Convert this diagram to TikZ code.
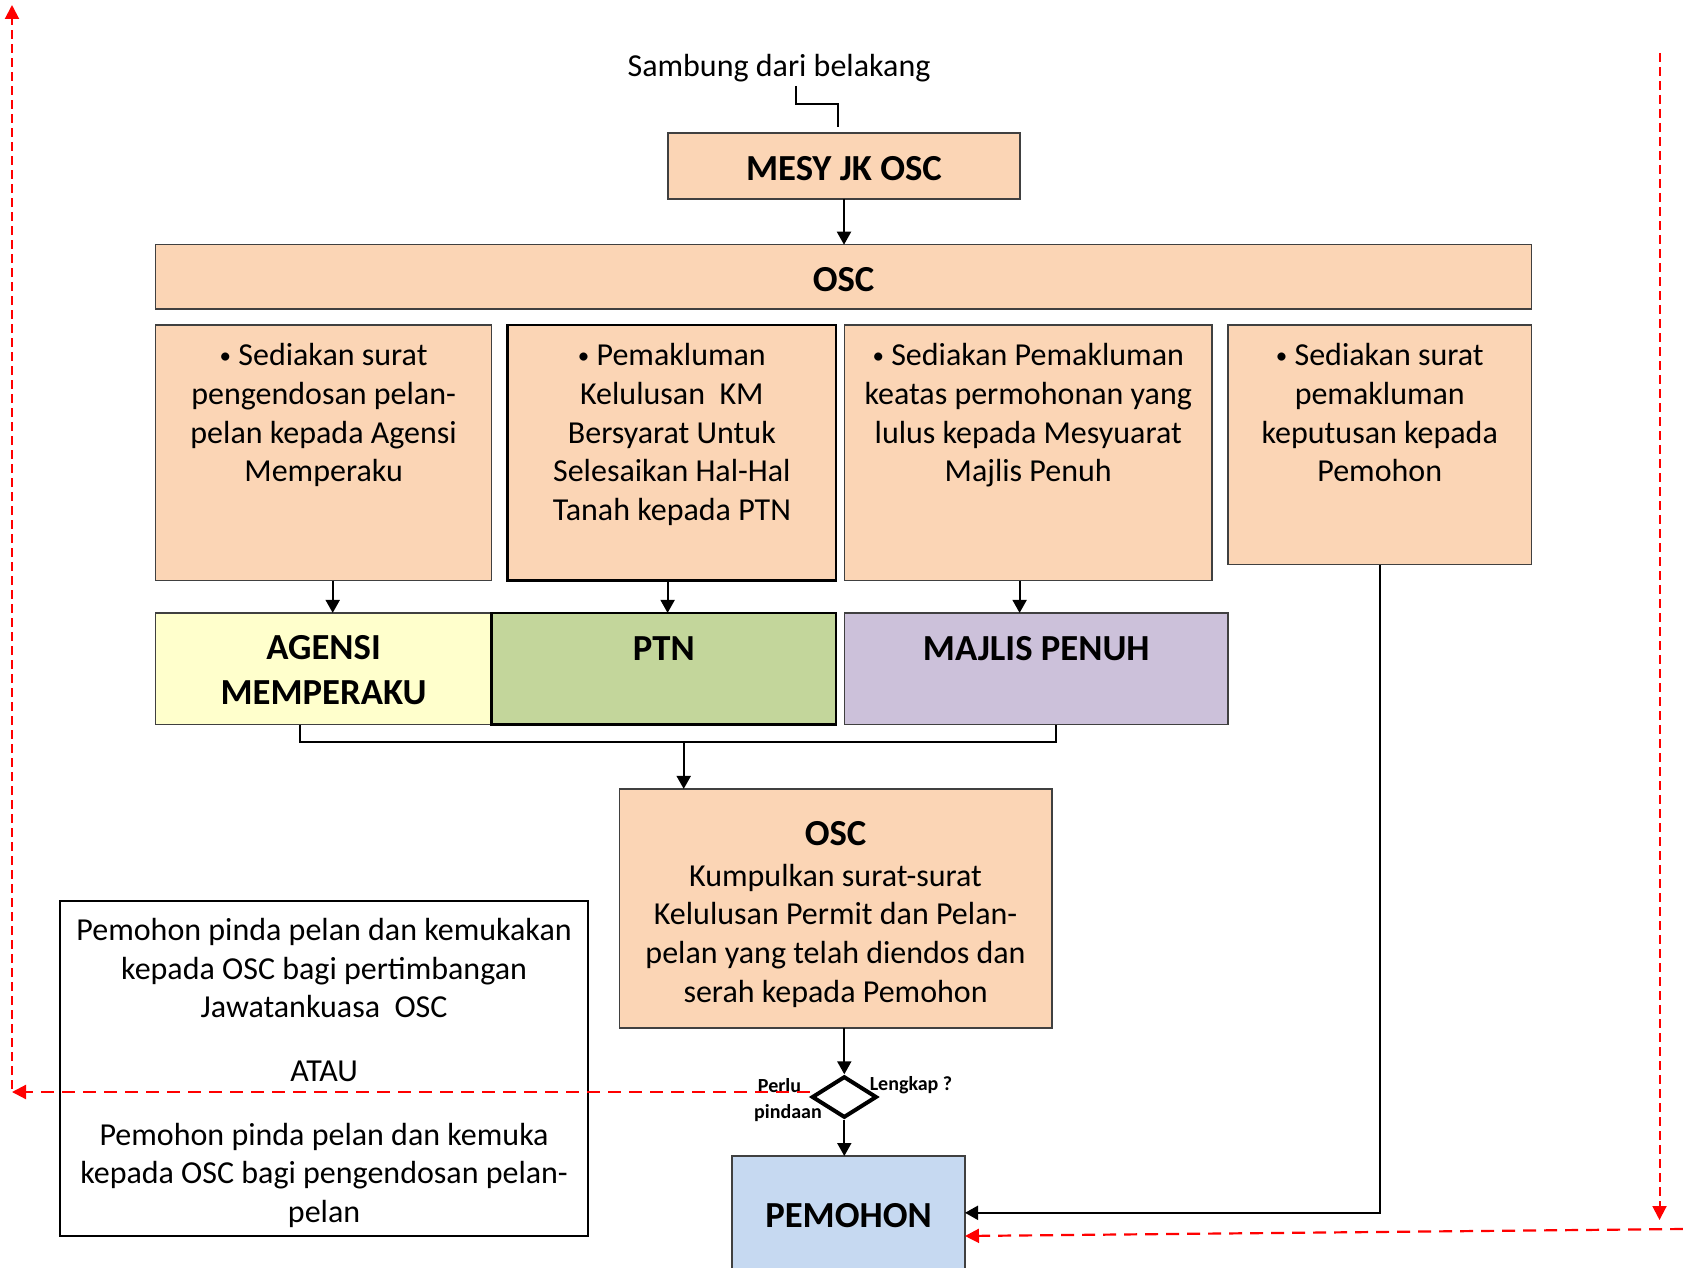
\documentclass[tikz,border=0pt]{standalone}
\usepackage{fontspec}
\setmainfont{Carlito}
\usetikzlibrary{arrows.meta,shapes.geometric}
\definecolor{peach}{HTML}{FBD5B5}
\definecolor{ylw}{HTML}{FFFFCC}
\definecolor{grn}{HTML}{C3D69B}
\definecolor{prp}{HTML}{CCC1DA}
\definecolor{blu}{HTML}{C6D9F1}
\definecolor{boxline}{HTML}{404040}
\newcommand\mybul{\raisebox{2.5pt}{\fontsize{23}{23}\selectfont•}}
\begin{document}
\begin{tikzpicture}[x=1pt,y=-1pt,
  box/.style={draw=boxline, line width=1.5pt, inner sep=0pt, outer sep=0pt, anchor=north west},
  txt/.style={font=\fontsize{32}{38.6}\selectfont, align=center, inner sep=0pt, yshift=-2.5pt},
  hd/.style={font=\fontsize{36.7}{45}\selectfont\bfseries, align=center, inner sep=0pt, yshift=-3pt},
  lbl/.style={font=\fontsize{20}{24}\selectfont\bfseries, inner sep=0pt, yshift=-2.5pt},
  ln/.style={line width=2pt},
  arr/.style={line width=2pt, -{Triangle[width=14pt,length=13pt]}},
  rarr/.style={red, line width=2.2pt, dash pattern=on 13pt off 8pt, -{Triangle[width=14pt,length=14pt]}},
  rvert/.style={dash pattern=on 9pt off 5pt, line width=2pt}
]
\clip (0,0) rectangle (1683,1268);
\fill[white] (0,0) rectangle (1683,1268);

% top
\node[txt] (samb) at (779,66) {Sambung dari belakang};
\node[box, fill=peach, minimum width=352, minimum height=66] (mesy) at (668,133) {};
\node[hd] at (mesy.center) {MESY JK OSC};
\coordinate (s1) at (795.7,86);
\coordinate (s2) at (837.7,127);
\draw[ln] (s1) |- (s2 |- 0,104) -- (s2);

\node[box, fill=peach, minimum width=1376, minimum height=64.3] (osc1) at (155.6,244.7) {};
\node[hd] at (osc1.center) {OSC};
\draw[arr] (mesy.south) -- (mesy.south |- osc1.north);

% four boxes
\node[box, fill=peach, minimum width=336, minimum height=255.5] (b1) at (155.6,325.2) {};
\node[box, fill=peach, draw=black, line width=2.5pt, minimum width=328.3, minimum height=255.5] (b2) at (507.7,325.2) {};
\node[box, fill=peach, minimum width=367.1, minimum height=255.5] (b3) at (844.7,325.2) {};
\node[box, fill=peach, minimum width=303.7, minimum height=239.4] (b4) at (1227.9,325.2) {};

\node[txt, anchor=north] at (b1.north |- 0,341) {\mybul{} Sediakan surat\\pengendosan pelan-\\pelan kepada Agensi\\Memperaku};
\node[txt, anchor=north] at (b2.north |- 0,341) {\mybul{} Pemakluman\\Kelulusan\ \ KM\\Bersyarat Untuk\\Selesaikan Hal-Hal\\Tanah kepada PTN};
\node[txt, anchor=north] at (b3.north |- 0,341) {\mybul{} Sediakan Pemakluman\\keatas permohonan yang\\lulus kepada Mesyuarat\\Majlis Penuh};
\node[txt, anchor=north] at (b4.north |- 0,341) {\mybul{} Sediakan surat\\pemakluman\\keputusan kepada\\Pemohon};

% coloured boxes
\node[box, fill=ylw, minimum width=336, minimum height=111.6] (agensi) at (155.6,612.9) {};
\node[box, fill=grn, draw=black, line width=2.5pt, minimum width=344.4, minimum height=111.6] (ptn) at (491.6,612.9) {};
\node[box, fill=prp, minimum width=383.2, minimum height=111.6] (majlis) at (844.7,612.9) {};
\node[hd, yshift=2pt] at (agensi.center) {AGENSI\\MEMPERAKU};
\node[hd] at (ptn.north |- 0,646) {PTN};
\node[hd] at (majlis.north |- 0,646) {MAJLIS PENUH};

\draw[arr] (b1.south -| 332.7,0) -- (agensi.north -| 332.7,0);
\draw[arr] (b2.south -| 667.6,0) -- (ptn.north -| 667.6,0);
\draw[arr] (b3.south -| 1019.6,0) -- (majlis.north -| 1019.6,0);

% OSC 2
\node[box, fill=peach, minimum width=432.5, minimum height=239.3] (osc2) at (619.3,788.9) {};
\coordinate (j) at (683.7,741.6);
\draw[ln] (agensi.south -| 299.5,0) |- (j) -| (majlis.south -| 1056,0);
\draw[arr] (j) -- (osc2.north -| j);
\node[txt, anchor=north] at (osc2.north |- 0,819) {{\fontsize{36.7}{45}\selectfont\bfseries OSC}\\[2pt]Kumpulkan surat-surat\\Kelulusan Permit dan Pelan-\\pelan yang telah diendos dan\\serah kepada Pemohon};

% decision
\node[diamond, draw=black, line width=4pt, fill=white, minimum width=65, minimum height=41.4, inner sep=0pt] (dia) at (844.3,1097) {};
\draw[arr] (osc2.south -| dia.north) -- (dia.north);

\node[box, fill=blu, minimum width=233, minimum height=140] (pem) at (732,1156) {};
\node[hd] at (pem.north |- 0,1213) {PEMOHON};
\draw[arr] (dia.south) -- (pem.north -| dia.south);

\node[lbl] at (779.5,1083) {Perlu};
\node[lbl] at (788,1111) {pindaan};
\node[lbl] at (911,1083) {Lengkap ?};

\draw[arr] (b4.south) |- (pem.east |- 0,1212.8);

% left box
\node[box, fill=white, draw=black, line width=2pt, minimum width=528.2, minimum height=335.9] (lb) at (60,900.5) {};
\node[txt, yshift=-2pt] at (lb.center) {Pemohon pinda pelan dan kemukakan\\kepada OSC bagi pertimbangan\\Jawatankuasa\ \ OSC\\[25pt]ATAU\\[25pt]Pemohon pinda pelan dan kemuka\\kepada OSC bagi pengendosan pelan-\\pelan};

% red dashed
\coordinate (L1) at (12,1092);
\coordinate (L2) at (12,1089);
\coordinate (L3) at (12,5);
\coordinate (R1) at (1659.5,53);
\coordinate (R2) at (1659.5,1220);
\coordinate (R3) at (1683,1229);
\draw[rarr] ([yshift=5pt]dia.west) -- (L1);
\draw[rarr, rvert] (L2) -- (L3);
\draw[rarr, rvert] (R1) -- (R2);
\draw[rarr] (R3) -- (pem.east |- 0,1236);
\end{tikzpicture}
\end{document}
